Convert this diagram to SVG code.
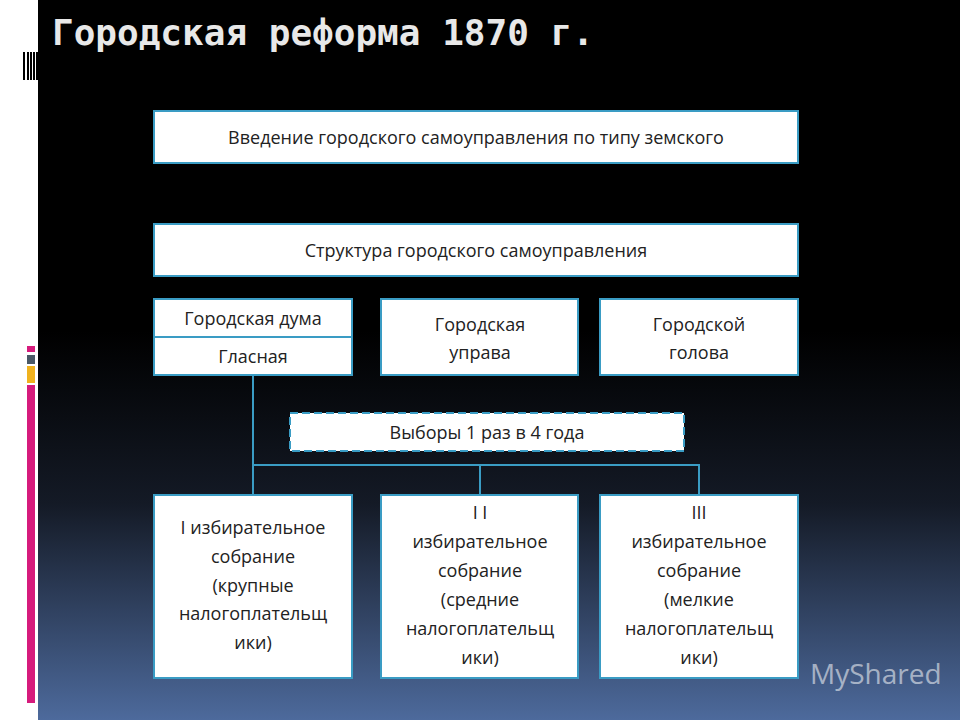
<svg xmlns="http://www.w3.org/2000/svg" width="960" height="720" viewBox="0 0 960 720">
<defs>
<linearGradient id="bg" x1="0" y1="0" x2="0" y2="1">
<stop offset="0" stop-color="#000"/><stop offset="0.46" stop-color="#000"/><stop offset="0.7" stop-color="#141a26"/><stop offset="1" stop-color="#4d6a9c"/>
</linearGradient>
<marker id="ar" viewBox="0 0 10 10" refX="5" refY="1" markerWidth="10" markerHeight="10" markerUnits="userSpaceOnUse" orient="auto-start-reverse">
<path d="M1,6 L5,1 L9,6" fill="none" stroke="#3a9cc4" stroke-width="1.5"/>
</marker>
<style>
.b{fill:#fff;stroke:#3a9cc4;stroke-width:2}
.t{font-family:"Open Sans","DejaVu Sans",sans-serif;font-size:18px;fill:#222;text-anchor:middle}
.c{fill:none;stroke:#3a9cc4;stroke-width:2}
</style>
</defs>
<rect width="960" height="720" fill="#fff"/>
<rect x="38" y="0" width="922" height="720" fill="url(#bg)"/>
<g fill="#000"><rect x="23" y="52" width="2" height="28"/><rect x="27" y="52" width="2" height="28"/><rect x="30" y="52" width="2" height="28"/><rect x="33" y="52" width="2" height="28"/><rect x="36" y="52" width="2" height="28"/></g>
<rect x="27" y="346" width="8" height="6" fill="#d61b7c"/>
<rect x="27" y="355" width="8" height="9" fill="#4a5866"/>
<rect x="27" y="366" width="8" height="17" fill="#f0b21e"/>
<rect x="27" y="385" width="8" height="318" fill="#d61b7c"/>
<text x="52" y="45" font-family="DejaVu Sans Mono,monospace" font-size="36" fill="#e8e8e8" font-weight="bold">Городская реформа 1870 г.</text>
<g id="connectors">
<path class="c" d="M253,495 V360" marker-end="url(#ar)"/>
<path class="c" d="M253,465 H699 V495 M480,465 V495"/>
</g>
<g id="n1"><rect class="b" x="154" y="111" width="644" height="52"/><text class="t" x="476" y="144">Введение городского самоуправления по типу земского</text></g>
<g id="n2"><rect class="b" x="154" y="224" width="644" height="52"/><text class="t" x="476" y="257">Структура городского самоуправления</text></g>
<g id="n3"><rect class="b" x="154" y="299" width="198" height="76"/><line x1="154" y1="337" x2="352" y2="337" stroke="#3a9cc4" stroke-width="2"/><text class="t" x="253" y="325">Городская дума</text><text class="t" x="253" y="363">Гласная</text></g>
<g id="n4"><rect class="b" x="381" y="299" width="197" height="76"/><text class="t" x="480" y="331">Городская</text><text class="t" x="480" y="359">управа</text></g>
<g id="n5"><rect class="b" x="600" y="299" width="198" height="76"/><text class="t" x="699" y="331">Городской</text><text class="t" x="699" y="359">голова</text></g>
<g id="n6"><rect class="b" x="290" y="413" width="394" height="38" stroke-dasharray="8 4"/><text class="t" x="487" y="439">Выборы 1 раз в 4 года</text></g>
<g id="n7"><rect class="b" x="154" y="495" width="198" height="183"/><text class="t" x="253" y="534">I избирательное</text><text class="t" x="253" y="563">собрание</text><text class="t" x="253" y="592">(крупные</text><text class="t" x="253" y="620">налогоплательщ</text><text class="t" x="253" y="649">ики)</text></g>
<g id="n8"><rect class="b" x="381" y="495" width="197" height="183"/><text class="t" x="480" y="519">I I</text><text class="t" x="480" y="548">избирательное</text><text class="t" x="480" y="577">собрание</text><text class="t" x="480" y="606">(средние</text><text class="t" x="480" y="635">налогоплательщ</text><text class="t" x="480" y="664">ики)</text></g>
<g id="n9"><rect class="b" x="600" y="495" width="198" height="183"/><text class="t" x="699" y="519">III</text><text class="t" x="699" y="548">избирательное</text><text class="t" x="699" y="577">собрание</text><text class="t" x="699" y="606">(мелкие</text><text class="t" x="699" y="635">налогоплательщ</text><text class="t" x="699" y="664">ики)</text></g>
<text x="810" y="684" font-family="Open Sans,sans-serif" font-size="28" fill="#fff" fill-opacity="0.55">MyShared</text>
</svg>
